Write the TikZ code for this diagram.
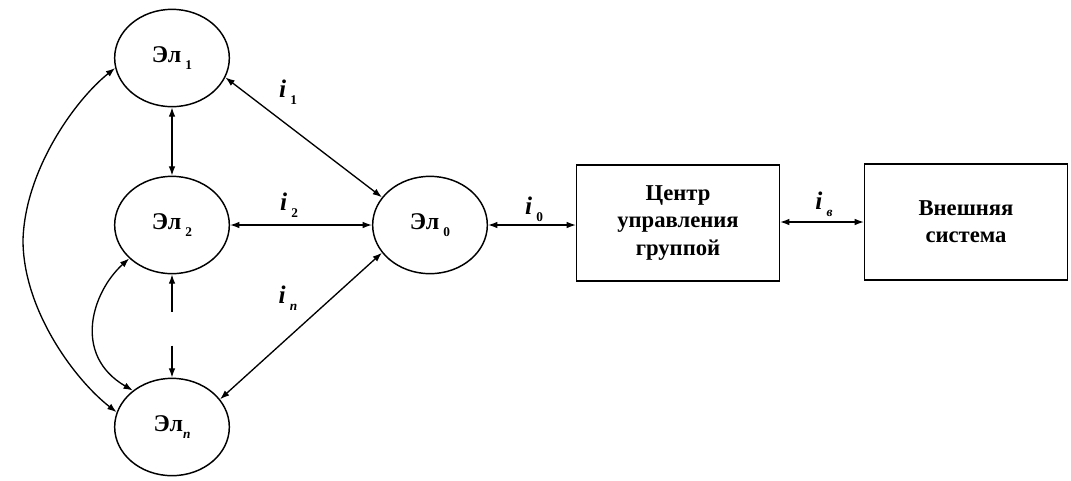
\documentclass[tikz,border=0pt]{standalone}
\usepackage{fontspec}
\setmainfont{Liberation Serif}
\usetikzlibrary{shapes.geometric,arrows.meta}
\newcommand{\sbs}[1]{\raisebox{-0.6ex}{\fontsize{10}{10}\selectfont #1}}
\begin{document}
\begin{tikzpicture}[x=0.75pt,y=-0.75pt,
  el/.style={ellipse,draw,line width=1.1pt,minimum width=86pt,minimum height=73pt,inner sep=0pt,font=\fontsize{18}{20}\selectfont\bfseries},
  box/.style={rectangle,draw,line width=1.1pt,minimum width=152pt,minimum height=87pt,align=center,font=\fontsize{17}{20.5}\selectfont\bfseries},
  lnk/.style={line width=1pt,{Latex[length=7pt,width=5pt]}-{Latex[length=7pt,width=5pt]}},
  lbl/.style={font=\fontsize{19}{20}\selectfont\bfseries\itshape}]
\useasboundingbox (0,0) rectangle (1071,480);
\node[el] (E1) at (172,58) {Эл\,\sbs{1}};
\node[el] (E2) at (172,225) {Эл\,\sbs{2}};
\node[el] (En) at (172,427) {Эл\sbs{\itshape n}};
\node[el] (E0) at (430,225) {Эл\,\sbs{0}};
\node[box] (B1) at (678,223) {Центр\\управления\\группой};
\node[box] (B2) at (966,222) {Внешняя\\система};

\draw[lnk] (E1.south) -- (E2.north);
\draw[lnk,dash pattern=on 22pt off 25pt] (E2.south) -- (En.north);
\draw[lnk] (E1.-20) -- (E0.150);
\draw[lnk] (E2.east) -- (E0.west);
\draw[lnk] (En.30) -- (E0.210);
\draw[lnk] (E0.east) -- (E0.east -| B1.west);
\draw[lnk] (B1.east |- B2.west) -- (B2.west);
\draw[lnk] (E1.190) .. controls (75,100) and (25,170) .. (23,240) .. controls (23,310) and (75,380) .. (En.165);
\draw[lnk] (E2.218) .. controls (92,292) and (72,355) .. (En.137);

\node[lbl] (l1) at (288,92) {i\,\sbs{\upshape 1}};
\node[lbl] (l2) at (289,205) {i\,\sbs{\upshape 2}};
\node[lbl] (ln) at (288,298) {i\,\sbs{n}};
\node[lbl] (l0) at (534,209) {i\,\sbs{\upshape 0}};
\node[lbl] (lv) at (824,204) {i\,\sbs{в}};
\end{tikzpicture}
\end{document}
